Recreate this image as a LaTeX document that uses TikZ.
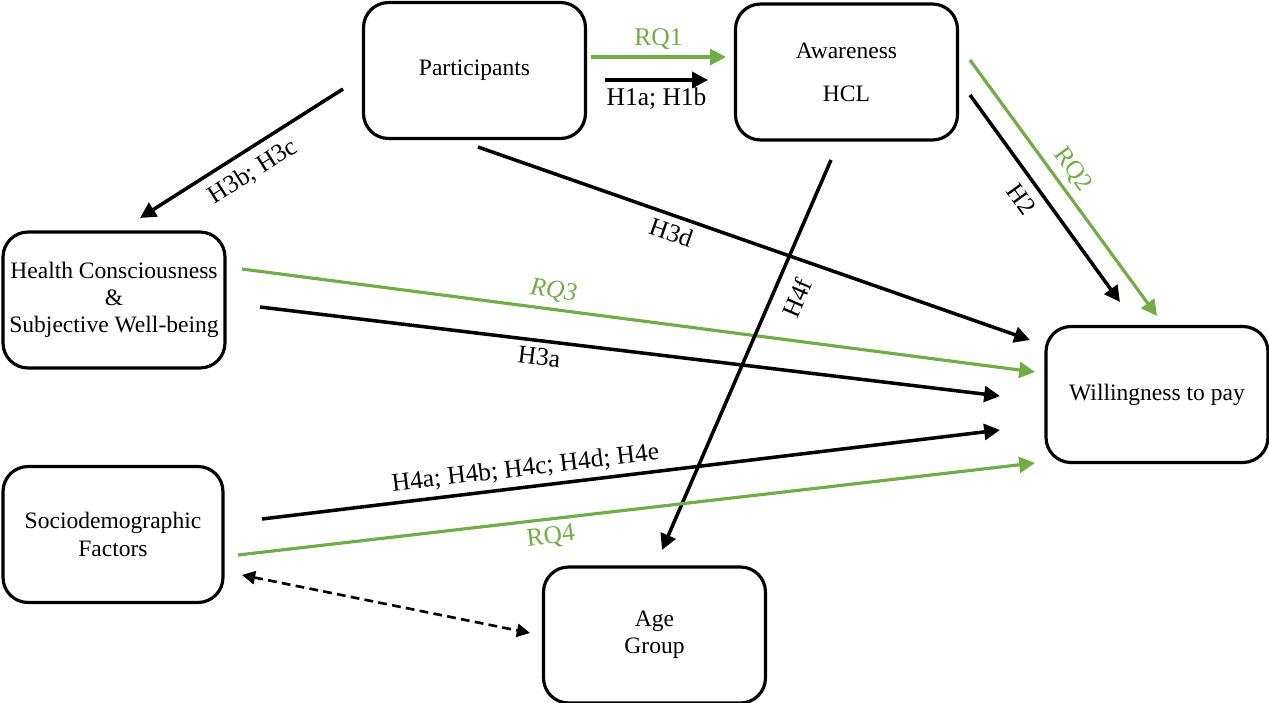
\documentclass[tikz,border=0pt]{standalone}
\usepackage{fontspec}
\setmainfont{Liberation Serif}
\usetikzlibrary{calc, arrows.meta}
\definecolor{rqgreen}{RGB}{112,173,71}

\begin{document}
\begin{tikzpicture}[x=0.02cm, y=-0.02cm,
    box/.style={draw, line width=1.8pt, rounded corners=0.5cm, minimum width=4.44cm, minimum height=2.72cm, align=center, font=\fontsize{13.4}{15.5}\selectfont},
    hyp/.style={line width=2pt, -{Triangle[length=9pt,width=9pt]}},
    rq/.style={rqgreen, line width=1.8pt, -{Triangle[length=9pt,width=9pt]}},
    lab/.style={font=\fontsize{14.5}{16}\selectfont},
    rqlab/.style={lab, text=rqgreen}]
    \useasboundingbox (0,0) rectangle (1269,703);
    \node[box] (part) at (474.5,70.5) {Participants};
    \node[box] (aware) at (846.5,72) {Awareness\\[9pt]HCL};
    \node[box] (health) at (114,300) {Health Consciousness\\\&\\Subjective Well-being};
    \node[box] (wtp) at (1157,394.5) {Willingness to pay};
    \node[box, minimum width=4.4cm] (socio) at (113,534.5) {Sociodemographic\\Factors};
    \node[box] (age) at (654.5,635) {Age\\Group};
    \coordinate (rq1s) at (591,57);   \coordinate (rq1e) at (726,57);
    \coordinate (h1s) at (605,80);    \coordinate (h1e) at (708,80);
    \coordinate (h3bs) at (343,89);   \coordinate (h3be) at (140,218);
    \coordinate (h3ds) at (478,147);  \coordinate (h3de) at (1030,340);
    \coordinate (rq2s) at (970,60);   \coordinate (rq2e) at (1157,316);
    \coordinate (h2s) at (970,95);    \coordinate (h2e) at (1120,302);
    \coordinate (rq3s) at (242,269);  \coordinate (rq3e) at (1035,372);
    \coordinate (h3as) at (260,307);  \coordinate (h3ae) at (1000,396);
    \coordinate (h4fs) at (831,160);  \coordinate (h4fe) at (662,550);
    \coordinate (h4s) at (262,519);   \coordinate (h4e) at (1000,430);
    \coordinate (rq4s) at (238,555);  \coordinate (rq4e) at (1035,463);
    \coordinate (ds) at (242,575);    \coordinate (de) at (530,633);
    \draw[rq] (rq1s) -- node[rqlab, above]{RQ1} (rq1e);
    \draw[hyp] (h1s) -- node[lab, below]{H1a; H1b} (h1e);
    \draw[hyp] (h3bs) -- node[lab, sloped, below=2pt]{H3b; H3c} (h3be);
    \draw[hyp] (h3ds) -- node[lab, sloped, below, pos=0.36]{H3d} (h3de);
    \draw[rq] (rq2s) -- node[rqlab, sloped, above, pos=0.47]{RQ2} (rq2e);
    \draw[hyp] (h2s) -- node[lab, sloped, below=2pt, pos=0.45]{H2} (h2e);
    \draw[rq] (rq3s) -- node[rqlab, sloped, above, pos=0.39]{\textit{RQ3}} (rq3e);
    \draw[hyp] (h3as) -- node[lab, sloped, below, pos=0.38]{H3a} (h3ae);
    \draw[hyp] (h4fs) -- node[lab, sloped, below=4pt, pos=0.33]{H4f} (h4fe);
    \draw[hyp] (h4s) -- node[lab, sloped, above, pos=0.36]{H4a; H4b; H4c; H4d; H4e} (h4e);
    \draw[rq] (rq4s) -- node[rqlab, sloped, below, pos=0.39]{RQ4} (rq4e);
    \draw[line width=1.5pt, dash pattern=on 5pt off 3pt, {Triangle[length=7.5pt,width=7.5pt]}-{Triangle[length=7.5pt,width=7.5pt]}] (ds) -- (de);
\end{tikzpicture}
\end{document}
